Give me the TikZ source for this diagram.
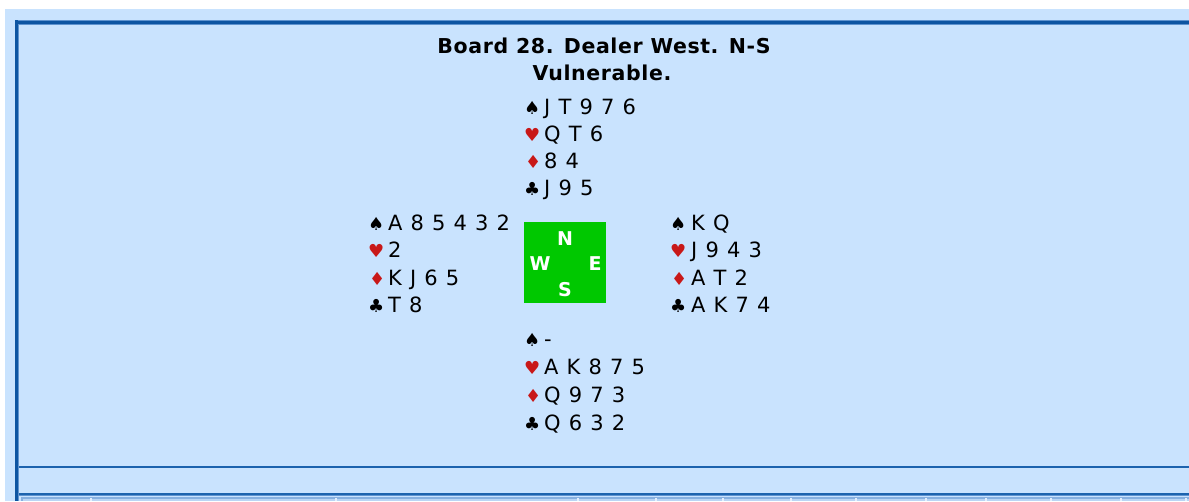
\documentclass[tikz,border=0pt]{standalone}
\usepackage{fontspec}
\setmainfont{DejaVu Sans}
\newfontfamily\cardfont{DejaVu Sans}[LetterSpace=7]
\newfontfamily\titlefont{DejaVu Sans}[LetterSpace=3]
\definecolor{pagebg}{HTML}{C9E3FE}
\definecolor{framedark}{HTML}{0D55A2}
\definecolor{framelight}{HTML}{5E93CF}
\definecolor{ruleblue}{HTML}{1C63AE}
\definecolor{cellline}{HTML}{86B0E0}
\definecolor{cellfill}{HTML}{B9D5F4}
\definecolor{cellsep}{HTML}{E4EFFC}
\definecolor{compass}{HTML}{00C800}
\definecolor{suitred}{HTML}{C81818}
\tikzset{
  cards/.style={anchor=base west, inner sep=0pt, font=\cardfont\fontsize{21}{25}\selectfont, text=black},
  suitblack/.style={anchor=base west, inner sep=0pt, font=\fontsize{18}{21}\selectfont, text=black},
  suitredst/.style={anchor=base west, inner sep=0pt, font=\fontsize{18}{21}\selectfont, text=suitred},
  dirletter/.style={inner sep=0pt, font=\bfseries\fontsize{19}{22}\selectfont, text=white},
  titleline/.style={inner sep=0pt, anchor=base, font=\titlefont\bfseries\fontsize{20.5}{25}\selectfont, text=black},
}
\begin{document}
\begin{tikzpicture}[x=1pt,y=-1pt]
\useasboundingbox (0,0) rectangle (1189,501);
\fill[white] (0,0) rectangle (1189,501);
\fill[pagebg] (5,9) rectangle (1189,501);
% outer frame
\fill[framelight] (15,20) rectangle (1189,21);
\fill[framedark] (15,21) rectangle (1189,24);
\fill[framedark] (15,20) rectangle (18,501);
\fill[framelight] (18,24) rectangle (19,501);
\fill[framelight] (18,24) rectangle (1189,25);
% horizontal rules
\fill[ruleblue] (19,466) rectangle (1189,468);
\fill[ruleblue] (19,493) rectangle (1189,495);
\fill[framelight] (19,495) rectangle (1189,496);
% bottom table
\fill[cellline] (21,497) rectangle (1189,501);
\fill[cellfill] (23,499) rectangle (1189,501);
\foreach \cx in {90,335,577,655,722,790,855,925,985,1050,1120,1185}{
  \fill[cellsep] (\cx,498) rectangle (\cx+1.5,501);
}
% title
\node[titleline] (title1) at (604,53) {Board 28. Dealer West. N-S};
\node[titleline] (title2) at (602,80) {Vulnerable.};
% compass
\node[fill=compass, minimum width=82pt, minimum height=81pt, inner sep=0pt, anchor=north west] (box) at (524,222) {};
\node[dirletter] (dn) at (565,238.5) {N};
\node[dirletter] (dw) at (540,263.5) {W};
\node[dirletter] (de) at (595,263.5) {E};
\node[dirletter] (ds) at (565,289.5) {S};
% North
\node[suitblack] (ns) at (524,114) {♠};
\node[cards] (nsr) at (544,114) {J T 9 7 6};
\node[suitredst] (nh) at (524,141) {♥};
\node[cards] (nhr) at (544,141) {Q T 6};
\node[suitredst] (nd) at (525,168) {♦};
\node[cards] (ndr) at (544,168) {8 4};
\node[suitblack] (nc) at (524,195) {♣};
\node[cards] (ncr) at (544,195) {J 9 5};
% West
\node[suitblack] (ws) at (368,230) {♠};
\node[cards] (wsr) at (388,230) {A 8 5 4 3 2};
\node[suitredst] (wh) at (368,257.5) {♥};
\node[cards] (whr) at (388,257.5) {2};
\node[suitredst] (wd) at (369,285) {♦};
\node[cards] (wdr) at (388,285) {K J 6 5};
\node[suitblack] (wc) at (368,312) {♣};
\node[cards] (wcr) at (388,312) {T 8};
% East
\node[suitblack] (es) at (670,230) {♠};
\node[cards] (esr) at (691,230) {K Q};
\node[suitredst] (eh) at (670,257.5) {♥};
\node[cards] (ehr) at (691,257.5) {J 9 4 3};
\node[suitredst] (ed) at (671,285) {♦};
\node[cards] (edr) at (691,285) {A T 2};
\node[suitblack] (ec) at (670,312) {♣};
\node[cards] (ecr) at (691,312) {A K 7 4};
% South
\node[suitblack] (ss) at (524,346) {♠};
\node[cards] (ssr) at (544,346) {-};
\node[suitredst] (sh) at (524,374) {♥};
\node[cards] (shr) at (544,374) {A K 8 7 5};
\node[suitredst] (sd) at (525,402) {♦};
\node[cards] (sdr) at (544,402) {Q 9 7 3};
\node[suitblack] (sc) at (524,430) {♣};
\node[cards] (scr) at (544,430) {Q 6 3 2};
\end{tikzpicture}
\end{document}
